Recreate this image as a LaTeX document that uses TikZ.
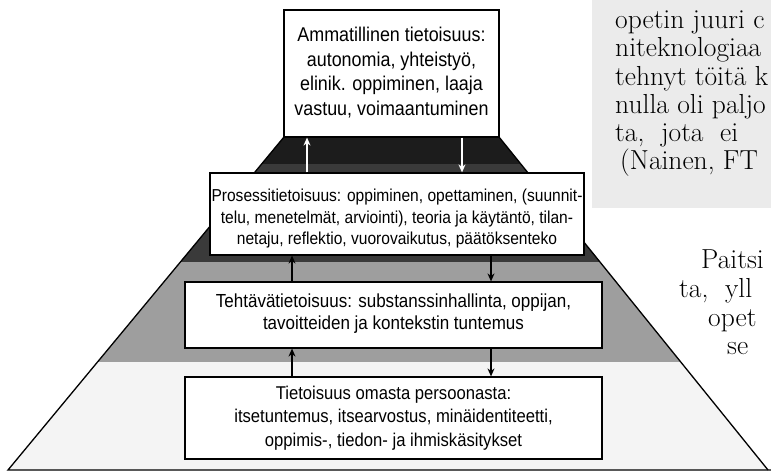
\documentclass[tikz,border=0pt]{standalone}
\usepackage{fontspec}
\newfontfamily\narrowsans[FakeStretch=0.9]{Liberation Sans}
\usepackage{tikz}
\usetikzlibrary{arrows.meta}
\usetikzlibrary{positioning,calc}

\definecolor{bandA}{HTML}{1C1C1C}
\definecolor{bandB}{HTML}{3A3A3A}
\definecolor{bandC}{HTML}{9E9E9E}
\definecolor{bandD}{HTML}{F4F4F4}
\definecolor{quotegray}{HTML}{EBEBEB}

\tikzset{
  levelbox/.style={draw=black,line width=1.2pt,fill=white,inner sep=0pt},
  leveltext/.style={inner sep=0pt,align=center,font=\narrowsans\fontsize{18.5}{23.5}\selectfont},
  linkarrow/.style={line width=1.2pt,-{Stealth[length=8pt,width=7pt]}},
  pagetext/.style={anchor=base west,inner sep=0pt,text=black,
    font=\fontsize{27.5}{28}\selectfont}
}

\begin{document}
\begin{tikzpicture}[x=1pt,y=-1pt]
	\useasboundingbox (0,0) rectangle (771,473);
	\fill[white] (0,0) rectangle (771,473);
	\fill[quotegray] (592,0) rectangle (771,208);
	% pyramid bands
	\begin{scope}
		\clip (284,137) -- (499,137) -- (768,470) -- (8,470) -- cycle;
		\fill[bandA] (0,137) rectangle (771,164);
		\fill[bandB] (0,164) rectangle (771,262);
		\fill[bandC] (0,262) rectangle (771,362);
		\fill[bandD] (0,362) rectangle (771,470);
	\end{scope}
	\draw [line width =1.3pt] (284,137) -- (8,470) -- (771,470);
	\draw [line width =1.3pt] (499,137) -- (768,470);
	% levels
	\node[levelbox,minimum width=215pt,minimum height=127pt] (amm) at (391.5,73.5) {};
	\node[leveltext,font=\narrowsans\fontsize{19.9}{24.5}\selectfont] (ammtext) at (391.5,72.5)
	  {Ammatillinen tietoisuus:\\ autonomia, yhteistyö,\\ elinik. oppiminen, laaja\\ vastuu, voimaantuminen};
	\node[levelbox,minimum width=374pt,minimum height=82pt] (pros) at (397,214) {};
	\node[leveltext,font=\narrowsans\fontsize{17.3}{21.5}\selectfont] (prostext) at (397,219)
	  {Prosessitietoisuus: oppiminen, opettaminen, (suunnit-\\ telu, menetelmät, arviointi), teoria ja käytäntö, tilan-\\ netaju, reflektio, vuorovaikutus, päätöksenteko};
	\node[levelbox,minimum width=417pt,minimum height=66pt] (teht) at (393.5,315) {};
	\node[leveltext,font=\narrowsans\fontsize{18.9}{22}\selectfont] (tehttext) at (393.5,313.5)
	  {Tehtävätietoisuus: substanssinhallinta, oppijan,\\ tavoitteiden ja kontekstin tuntemus};
	\node[levelbox,minimum width=417pt,minimum height=82pt] (tiet) at (393.5,418) {};
	\node[leveltext] (tiettext) at (393.5,418)
	  {Tietoisuus omasta persoonasta:\\ itsetuntemus, itsearvostus, minäidentiteetti,\\ oppimis-, tiedon- ja ihmiskäsitykset};
	% connectors
	\coordinate (upA) at (307,0);
	\coordinate (downA) at (462,0);
	\coordinate (upB) at (292,0);
	\coordinate (downB) at (491,0);
	\draw [linkarrow,white] (pros.north -| upA) -- (amm.south -| upA);
	\draw [linkarrow,white] (amm.south -| downA) -- (pros.north -| downA);
	\draw [linkarrow] (teht.north -| upB) -- (pros.south -| upB);
	\draw [linkarrow] (pros.south -| downB) -- (teht.north -| downB);
	\draw [linkarrow] (tiet.north -| upB) -- (teht.south -| upB);
	\draw [linkarrow] (teht.south -| downB) -- (tiet.north -| downB);
	% page text
	\node[pagetext] (q1) at (615,29) {opetin juuri c};
	\node[pagetext] (q2) at (615,57) {niteknologiaa};
	\node[pagetext] (q3) at (615,86) {tehnyt töitä k};
	\node[pagetext] (q4) at (615,114) {nulla oli paljo};
	\node[pagetext] (q5) at (615,142) {ta,\ \ jota\ \ ei};
	\node[pagetext] (q6) at (620,170) {(Nainen, FT};
	\node[pagetext] (r1) at (701,268) {Paitsi};
	\node[pagetext] (r2) at (679,297) {ta,\ \ yll};
	\node[pagetext] (r3) at (708,326) {opet};
	\node[pagetext] (r4) at (727,354) {se};
\end{tikzpicture}
\end{document}
